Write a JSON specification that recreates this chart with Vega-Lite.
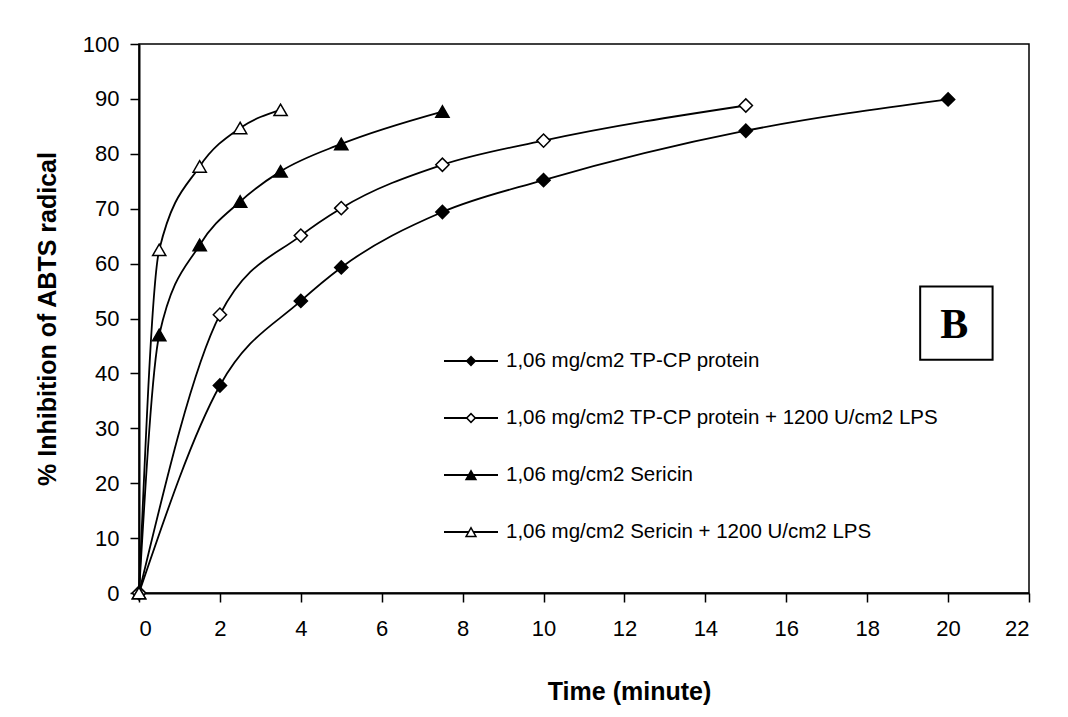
{
  "$schema": "https://vega.github.io/schema/vega-lite/v6.json",
  "autosize": {"type": "none"},
  "width": 890,
  "height": 549,
  "padding": {"left": 139, "top": 44, "right": 39, "bottom": 124},
  "background": "white",
  "config": {
    "font": "Liberation Sans",
    "view": {"stroke": "black", "strokeWidth": 1.5},
    "axis": {
      "grid": false,
      "domainColor": "black",
      "domainWidth": 2,
      "tickColor": "black",
      "tickWidth": 1.5,
      "tickSize": 9,
      "labelColor": "black",
      "labelFont": "Liberation Sans",
      "labelFontSize": 22,
      "titleColor": "black",
      "titleFont": "Liberation Sans",
      "titleFontSize": 25,
      "titleFontWeight": "bold"
    },
    "legend": {
      "padding": 0,
      "symbolSize": 2916,
      "symbolOpacity": 1,
      "symbolFillColor": "black",
      "symbolStrokeWidth": 0,
      "labelFont": "Liberation Sans",
      "labelFontSize": 20.5,
      "labelColor": "black",
      "labelOffset": 8,
      "rowPadding": 19,
      "labelLimit": 600
    }
  },
  "datasets": {
    "series": [
      {"series": "1,06 mg/cm2 TP-CP protein", "time": 0, "inhibition": 0},
      {"series": "1,06 mg/cm2 TP-CP protein", "time": 2, "inhibition": 37.8},
      {"series": "1,06 mg/cm2 TP-CP protein", "time": 4, "inhibition": 53.2},
      {"series": "1,06 mg/cm2 TP-CP protein", "time": 5, "inhibition": 59.3},
      {"series": "1,06 mg/cm2 TP-CP protein", "time": 7.5, "inhibition": 69.4},
      {"series": "1,06 mg/cm2 TP-CP protein", "time": 10, "inhibition": 75.2},
      {"series": "1,06 mg/cm2 TP-CP protein", "time": 15, "inhibition": 84.2},
      {"series": "1,06 mg/cm2 TP-CP protein", "time": 20, "inhibition": 89.9},
      {"series": "1,06 mg/cm2 TP-CP protein + 1200 U/cm2 LPS", "time": 0, "inhibition": 0},
      {"series": "1,06 mg/cm2 TP-CP protein + 1200 U/cm2 LPS", "time": 2, "inhibition": 50.7},
      {"series": "1,06 mg/cm2 TP-CP protein + 1200 U/cm2 LPS", "time": 4, "inhibition": 65.1},
      {"series": "1,06 mg/cm2 TP-CP protein + 1200 U/cm2 LPS", "time": 5, "inhibition": 70.1},
      {"series": "1,06 mg/cm2 TP-CP protein + 1200 U/cm2 LPS", "time": 7.5, "inhibition": 78.0},
      {"series": "1,06 mg/cm2 TP-CP protein + 1200 U/cm2 LPS", "time": 10, "inhibition": 82.4},
      {"series": "1,06 mg/cm2 TP-CP protein + 1200 U/cm2 LPS", "time": 15, "inhibition": 88.8},
      {"series": "1,06 mg/cm2 Sericin", "time": 0, "inhibition": 0},
      {"series": "1,06 mg/cm2 Sericin", "time": 0.5, "inhibition": 47.0},
      {"series": "1,06 mg/cm2 Sericin", "time": 1.5, "inhibition": 63.4},
      {"series": "1,06 mg/cm2 Sericin", "time": 2.5, "inhibition": 71.3},
      {"series": "1,06 mg/cm2 Sericin", "time": 3.5, "inhibition": 76.8},
      {"series": "1,06 mg/cm2 Sericin", "time": 5, "inhibition": 81.8},
      {"series": "1,06 mg/cm2 Sericin", "time": 7.5, "inhibition": 87.7},
      {"series": "1,06 mg/cm2 Sericin + 1200 U/cm2 LPS", "time": 0, "inhibition": 0},
      {"series": "1,06 mg/cm2 Sericin + 1200 U/cm2 LPS", "time": 0.5, "inhibition": 62.5},
      {"series": "1,06 mg/cm2 Sericin + 1200 U/cm2 LPS", "time": 1.5, "inhibition": 77.7},
      {"series": "1,06 mg/cm2 Sericin + 1200 U/cm2 LPS", "time": 2.5, "inhibition": 84.7},
      {"series": "1,06 mg/cm2 Sericin + 1200 U/cm2 LPS", "time": 3.5, "inhibition": 88.0}
    ],
    "panel": [
      {"label": "B", "x": 19.31, "x2": 21.1, "y": 42.5, "y2": 55.85, "tx": 20.15, "ty": 46.45}
    ]
  },
  "layer": [
    {
      "data": {"name": "panel"},
      "mark": {"type": "rect", "fill": "white", "stroke": "black", "strokeWidth": 2},
      "encoding": {
        "x": {"field": "x", "type": "quantitative", "scale": {"domain": [0, 22]}},
        "x2": {"field": "x2"},
        "y": {"field": "y", "type": "quantitative", "scale": {"domain": [0, 100]}},
        "y2": {"field": "y2"}
      }
    },
    {
      "data": {"name": "panel"},
      "mark": {"type": "text", "font": "Liberation Serif", "fontWeight": "bold", "fontSize": 42, "align": "center", "baseline": "alphabetic", "color": "black"},
      "encoding": {
        "x": {"field": "tx", "type": "quantitative"},
        "y": {"field": "ty", "type": "quantitative"},
        "text": {"field": "label"}
      }
    },
    {
      "data": {"name": "series"},
      "mark": {"type": "line", "interpolate": "monotone", "color": "black", "strokeWidth": 1.8},
      "encoding": {
        "x": {"field": "time", "type": "quantitative"},
        "y": {"field": "inhibition", "type": "quantitative"},
        "detail": {"field": "series"}
      }
    },
    {
      "data": {"name": "series"},
      "mark": {"type": "point", "filled": true, "color": "black", "size": 175, "opacity": 0},
      "encoding": {
        "x": {"field": "time", "type": "quantitative"},
        "y": {"field": "inhibition", "type": "quantitative"},
        "shape": {
          "field": "series", "type": "nominal",
          "scale": {
            "domain": ["1,06 mg/cm2 TP-CP protein", "1,06 mg/cm2 TP-CP protein + 1200 U/cm2 LPS", "1,06 mg/cm2 Sericin", "1,06 mg/cm2 Sericin + 1200 U/cm2 LPS"],
            "range": [
              "M-1,-0.033H1V0.033H-1Z M-0.2,0L0,-0.2L0.2,0L0,0.2Z",
              "M-1,-0.033H-0.15V0.033H-1Z M0.15,-0.033H1V0.033H0.15Z M-0.2,0L0,-0.2L0.2,0L0,0.2Z M-0.12,0L0,0.12L0.12,0L0,-0.12Z",
              "M-1,-0.033H1V0.033H-1Z M-0.23,0.19L0,-0.21L0.23,0.19Z",
              "M-1,-0.033H-0.1V0.033H-1Z M0.1,-0.033H1V0.033H0.1Z M-0.23,0.19L0,-0.21L0.23,0.19Z M-0.135,0.135L0.135,0.135L0,-0.1Z"
            ]
          },
          "legend": {"title": null, "orient": "none", "legendX": 305, "legendY": 290}
        }
      }
    },
    {
      "data": {"name": "series"},
      "mark": {"type": "point", "filled": true, "stroke": "black", "strokeWidth": 1.5, "size": 175, "opacity": 1},
      "encoding": {
        "x": {
          "field": "time", "type": "quantitative",
          "scale": {"domain": [0, 22], "nice": false, "zero": true},
          "axis": {"values": [0, 2, 4, 6, 8, 10, 12, 14, 16, 18, 20, 22], "labelPadding": 16, "title": "Time (minute)", "titlePadding": 40, "titleX": 490}
        },
        "y": {
          "field": "inhibition", "type": "quantitative",
          "scale": {"domain": [0, 100], "nice": false},
          "axis": {"values": [0, 10, 20, 30, 40, 50, 60, 70, 80, 90, 100], "labelPadding": 11, "title": "% Inhibition of ABTS radical", "titlePadding": 22}
        },
        "shape": {
          "condition": {"test": "indexof(datum.series, 'Sericin') >= 0", "value": "triangle-up"},
          "value": "diamond"
        },
        "fill": {
          "condition": {"test": "indexof(datum.series, 'LPS') >= 0", "value": "white"},
          "value": "black"
        }
      }
    }
  ]
}
